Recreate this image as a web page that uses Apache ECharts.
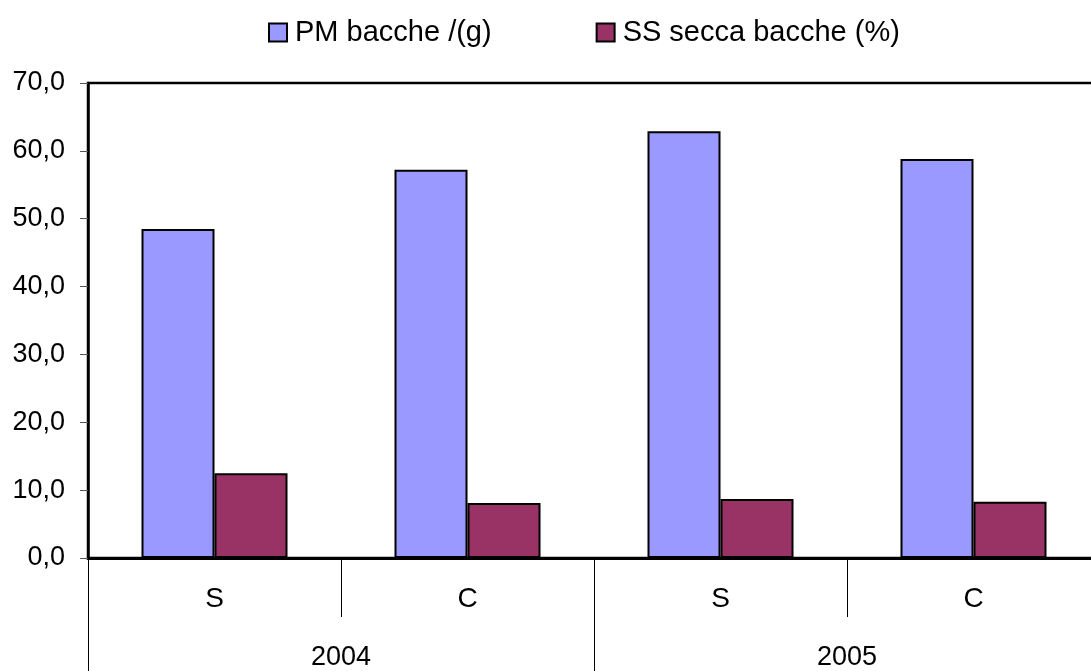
<!DOCTYPE html>
<html>
<head>
<meta charset="utf-8">
<script src="https://cdn.jsdelivr.net/npm/echarts@6/dist/echarts.min.js"></script>
<style>
  html, body { margin: 0; padding: 0; background: #fff; overflow: hidden; }
  /* plot runs a few px past the window's right edge, as in the original */
  #chart { width: 1100px; height: 671px; }
</style>
</head>
<body>
<div id="chart"></div>
<script>
const treatments = ['S', 'C', 'S', 'C']
const years = ['2004', '2005']
const pmBacche = [48.5, 57.2, 62.9, 58.8]
const ssSecca = [12.5, 8.1, 8.7, 8.3]
const seriesNames = ['PM bacche /(g)', 'SS secca bacche (%)']

const chart = echarts.init(document.getElementById('chart'))
const font = 'Liberation Sans, Arial, sans-serif'

const barStyle = color => ({ color, borderColor: '#000', borderWidth: 2 })

chart.setOption({
  animation: false,
  textStyle: { fontFamily: font },
  legend: {
    data: seriesNames,
    top: 13,
    left: 263,
    icon: 'rect',
    itemWidth: 18,
    itemHeight: 18,
    itemGap: 104,
    textStyle: { fontSize: 29, color: '#000', fontFamily: font, padding: [0, 0, 0, 3] },
    itemStyle: { borderColor: '#000', borderWidth: 2 }
  },
  grid: {
    left: 88, top: 83, right: 0, height: 475,
    show: true, borderColor: '#000', borderWidth: 2.5, backgroundColor: 'transparent'
  },
  xAxis: [{
    type: 'category',
    data: treatments,
    position: 'bottom',
    axisLine: { lineStyle: { color: '#000', width: 3 } },
    axisTick: { show: true, interval: 0, length: 59, lineStyle: { color: '#000', width: 1 } },
    axisLabel: { fontSize: 28, color: '#000', margin: 27, fontFamily: font }
  }, {
    type: 'category',
    data: years,
    position: 'bottom',
    axisLine: { show: false },
    axisTick: { show: true, interval: 0, length: 120, lineStyle: { color: '#000', width: 1 } },
    axisLabel: { fontSize: 27, color: '#000', margin: 86, fontFamily: font }
  }],
  yAxis: {
    type: 'value',
    min: 0,
    max: 70,
    interval: 10,
    axisLine: { show: true, lineStyle: { color: '#000', width: 2.5 } },
    axisTick: { show: true, length: 8, lineStyle: { color: '#555' } },
    splitLine: { show: false },
    axisLabel: {
      fontSize: 27, color: '#000', margin: 23, fontFamily: font,
      formatter: v => v.toFixed(1).replace('.', ',')
    }
  },
  series: [{
    name: seriesNames[0],
    type: 'bar',
    data: pmBacche,
    barWidth: 73,
    barGap: '0%',
    itemStyle: barStyle('#9999FF')
  }, {
    name: seriesNames[1],
    type: 'bar',
    data: ssSecca,
    barWidth: 73,
    barGap: '0%',
    itemStyle: barStyle('#993366')
  }]
})
</script>
</body>
</html>
